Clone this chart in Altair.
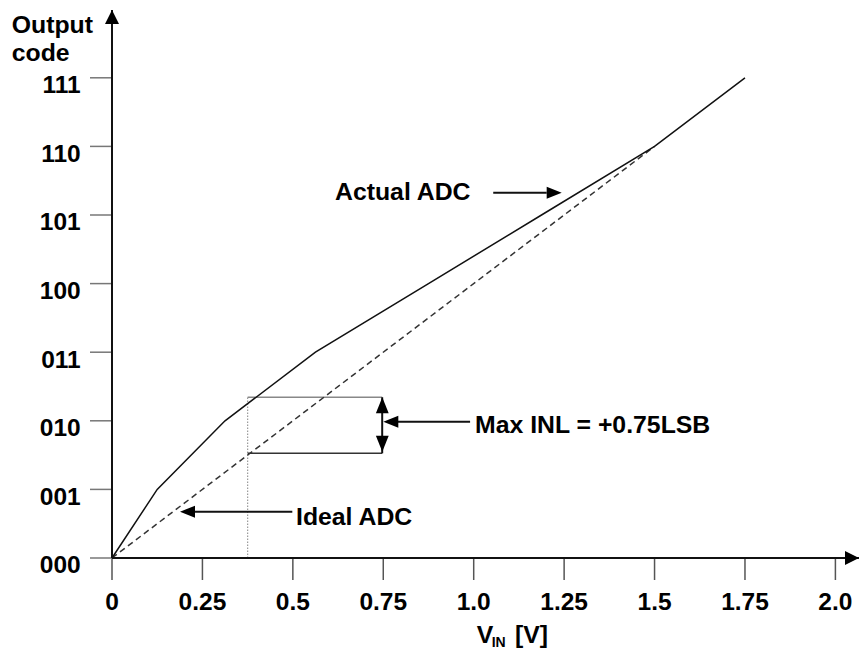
import altair as alt
import pandas as pd

# ---- data ----
actual_v = [0, 0.125, 0.3125, 0.5625, 0.875, 1.1875, 1.5, 1.75]
actual_code = [0, 1, 2, 3, 4, 5, 6, 7]
ideal_v = [0, 1.5]
ideal_code = [0, 6]

x_ticks = [0, 0.25, 0.5, 0.75, 1.0, 1.25, 1.5, 1.75, 2.0]
x_tick_labels = ["0", "0.25", "0.5", "0.75", "1.0", "1.25", "1.5", "1.75", "2.0"]
y_ticks = [0, 1, 2, 3, 4, 5, 6, 7]
y_tick_labels = ["000", "001", "010", "011", "100", "101", "110", "111"]

# INL construction (V, code)
inl_v = 0.375
inl_v_end = 0.747
inl_top = 2.343
inl_bottom = 1.526

FONT = "Liberation Sans"
FS = 24.8
TFS = 24.5
W, H = 851, 642
PX_V = 361.7           # pixels per volt
PX_C = 68.6            # pixels per code
XMIN = -104 / PX_V
XMAX = XMIN + W / PX_V
YMAX = 550 / PX_C
YMIN = YMAX - H / PX_C
TICK = 22              # tick length in px

xs = alt.Scale(domain=[XMIN, XMAX], nice=False, zero=False)
ys = alt.Scale(domain=[YMIN, YMAX], nice=False, zero=False)
X = lambda f: alt.X(f, scale=xs, axis=None)
Y = lambda f: alt.Y(f, scale=ys, axis=None)

actual_df = pd.DataFrame({"v": actual_v, "code": actual_code})
ideal_df = pd.DataFrame({"v": ideal_v, "code": ideal_code})

actual = alt.Chart(actual_df).mark_line(color="#111", strokeWidth=1.5).encode(
    x=X("v:Q"), y=Y("code:Q"))
ideal = alt.Chart(ideal_df).mark_line(color="#333", strokeWidth=1.5, strokeDash=[6, 4]).encode(
    x=X("v:Q"), y=Y("code:Q"))


def segs(x1, x2, y1, y2):
    return pd.DataFrame({"x1": x1, "x2": x2, "y1": y1, "y2": y2})


def rule_layer(df, **mk):
    return alt.Chart(df).mark_rule(**mk).encode(
        x=X("x1:Q"), x2="x2:Q", y=Y("y1:Q"), y2="y2:Q")


# axis lines
axes = rule_layer(segs([0, 0], [0, XMAX], [0, 0], [(558 - 10) / PX_C, 0]),
                  color="#111", strokeWidth=2)

# tick marks (outward, 22 px) drawn as line-shaped symbols
n_x, n_y = len(x_ticks), len(y_ticks)
xt_df = pd.DataFrame({"v": x_ticks, "code": [0] * n_x})
xtick_marks = alt.Chart(xt_df).mark_point(
    shape="M0,-1L0,1", filled=False, color="#555", strokeWidth=1.5, opacity=1,
    size=TICK * TICK, yOffset=TICK / 2).encode(x=X("v:Q"), y=Y("code:Q"))
yt_df = pd.DataFrame({"v": [0] * n_y, "code": y_ticks})
ytick_marks = alt.Chart(yt_df).mark_point(
    shape="M-1,0L1,0", filled=False, color="#777", strokeWidth=1.5, opacity=1,
    size=TICK * TICK, xOffset=-TICK / 2).encode(x=X("v:Q"), y=Y("code:Q"))

dotted = rule_layer(segs([inl_v], [inl_v], [0], [inl_top]),
                    color="#999", strokeWidth=1.2, strokeDash=[1.5, 1.5])
top_line = rule_layer(segs([inl_v], [inl_v_end], [inl_top], [inl_top]),
                      color="#888", strokeWidth=1.5)
bottom_line = rule_layer(segs([inl_v], [inl_v_end], [inl_bottom], [inl_bottom]),
                         color="#333", strokeWidth=1.5)
arrows = rule_layer(
    segs([inl_v_end, 0.787, 0.2295, 1.054],
         [inl_v_end, 0.990, 0.4985, 1.2018],
         [inl_bottom, 1.987, 0.675, 5.325],
         [inl_top, 1.987, 0.675, 5.325]),
    color="#111", strokeWidth=2)

heads_df = pd.DataFrame({
    "v": [0, XMAX - 7 / PX_V, 0.2087, 1.2226, 0.7708, 0.7473, 0.7473],
    "code": [(558 - 17) / PX_C, 0, 0.675, 5.325, 1.987, 2.226, 1.666],
    "path": ["M0,-1L-1,1L1,1Z", "M1,0L-1,-1L-1,1Z", "M-1,0L1,-0.8L1,0.8Z",
             "M1,0L-1,-0.8L-1,0.8Z", "M-1,0L1,-0.8L1,0.8Z",
             "M0,-1L-0.8,1L0.8,1Z", "M0,1L-0.8,-1L0.8,-1Z"],
    "sz": [196, 196, 225, 225, 225, 256, 256],
})
heads = alt.Chart(heads_df).mark_point(filled=True, color="#000", opacity=1, strokeWidth=0).encode(
    x=X("v:Q"), y=Y("code:Q"),
    shape=alt.Shape("path:N", scale=None),
    size=alt.Size("sz:Q", scale=None),
)

# tick labels, placed through the scales
xlab_df = pd.DataFrame({"v": x_ticks, "code": [-52 / PX_C] * n_x, "t": x_tick_labels})
xlabels = alt.Chart(xlab_df).mark_text(align="center", baseline="alphabetic", font=FONT,
                                       fontWeight="bold", fontSize=TFS, color="#000").encode(
    x=X("v:Q"), y=Y("code:Q"), text="t:N")
ylab_df = pd.DataFrame({"v": [-31.3 / PX_V] * n_y,
                        "code": [c - 15.3 / PX_C for c in y_ticks], "t": y_tick_labels})
ylabels = alt.Chart(ylab_df).mark_text(align="right", baseline="alphabetic", font=FONT,
                                       fontWeight="bold", fontSize=TFS, color="#000").encode(
    x=X("v:Q"), y=Y("code:Q"), text="t:N")

text_df = pd.DataFrame({
    "v": [-0.2773, -0.2773, 0.6165, 0.5087, 1.0036, 1.0083, 1.0498, 1.1142],
    "code": [7.653, 7.245, 5.219, 0.481, 1.818, -1.239, -1.297, -1.239],
    "t": ["Output", "code", "Actual ADC", "Ideal ADC", "Max INL = +0.75LSB", "V", "IN", "[V]"],
    "fs": [FS, FS, FS, FS, FS, FS, 14, FS],
})
texts = alt.Chart(text_df).mark_text(align="left", baseline="alphabetic", font=FONT,
                                     fontWeight="bold", color="#000").encode(
    x=X("v:Q"), y=Y("code:Q"), text="t:N",
    size=alt.Size("fs:Q", scale=None),
)

chart = alt.layer(xtick_marks, ytick_marks, dotted, top_line, bottom_line, ideal, actual,
                  axes, arrows, heads, xlabels, ylabels, texts).properties(
    width=W, height=H,
    padding=0,
    autosize=alt.AutoSizeParams(type="none"),
    background="white",
).configure_view(strokeWidth=0, strokeOpacity=0)

chart.save("out.html", embed_options={"renderer": "svg", "actions": False})
